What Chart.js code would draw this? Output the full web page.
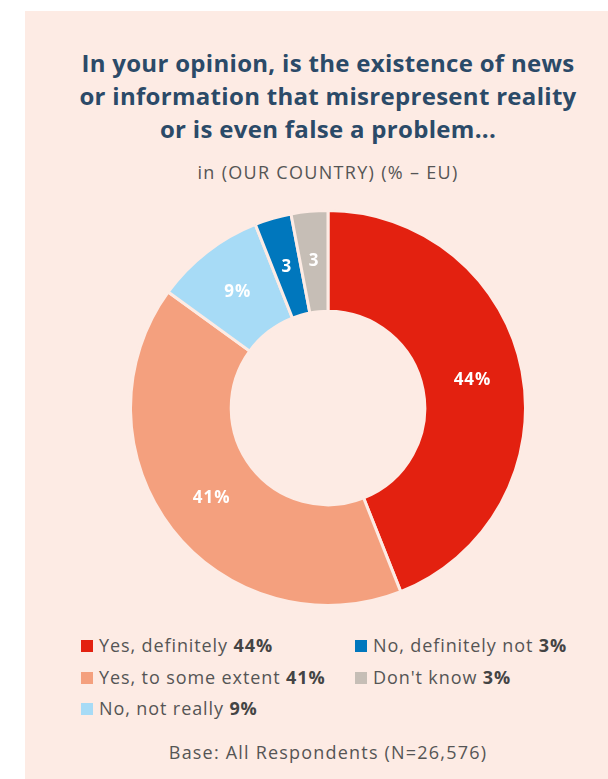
<!DOCTYPE html>
<html>
<head>
<meta charset="utf-8">
<script src="https://cdn.jsdelivr.net/npm/chart.js@4"></script>
<style>
  body { margin: 0; background: #fff; width: 608px; height: 779px; overflow: hidden; font-family: "Open Sans", Lato, sans-serif; }
  #panel { position: absolute; left: 25px; top: 11px; width: 583px; height: 768px; background: #fdebe4; }
  #title { position: absolute; left: 0; top: 46px; width: 656px; text-align: center; font-weight: bold; font-size: 24px; line-height: 33px; color: #2b4a68; letter-spacing: 0.3px; }
  #sub { position: absolute; left: 0; top: 160px; width: 656px; text-align: center; font-size: 18px; color: #555; letter-spacing: 1.3px; }
  #box { position: absolute; left: 129px; top: 208px; width: 398px; height: 400px; }
  .lg { position: absolute; font-size: 18px; color: #555; white-space: nowrap; line-height: 22px; letter-spacing: 0.9px; }
  .lg i { display: inline-block; width: 12px; height: 12px; margin-right: 6px; vertical-align: 0px; }
  .lg b { color: #444; }
  #base { position: absolute; left: 0; top: 740px; width: 656px; text-align: center; font-size: 18px; color: #555; letter-spacing: 1.2px; }
</style>
</head>
<body>
<div id="panel"></div>
<div id="title">In your opinion, is the existence of news<br>or information that misrepresent reality<br>or is even false a problem...</div>
<div id="sub">in (OUR COUNTRY) (% – EU)</div>
<div id="box"><canvas id="myChart"></canvas></div>
<div id="legend"></div>
<div id="base">Base: All Respondents (N=26,576)</div>
<script>
const labels = ['Yes, definitely', 'Yes, to some extent', 'No, not really', 'No, definitely not', "Don't know"];
const values = [44, 41, 9, 3, 3];
const sliceLabels = ['44%', '41%', '9%', '3', '3'];
const colors = ['#e32110', '#f4a07e', '#a7dbf6', '#0077bd', '#c6beb6'];
const bg = '#fdebe4';

// legend, column first
const pos = [[81, 634], [81, 666], [81, 697], [355, 634], [355, 666]];
let html = '';
for (let i = 0; i < labels.length; i++) {
    html += '<div class="lg" style="left:' + pos[i][0] + 'px;top:' + pos[i][1] + 'px"><i style="background:' + colors[i] + '"></i>' + labels[i] + ' <b>' + values[i] + '%</b></div>';
}
document.getElementById('legend').innerHTML = html;

const sliceText = {
    id: 'sliceText',
    afterDatasetsDraw(chart) {
        const c = chart.ctx;
        const meta = chart.getDatasetMeta(0);
        c.save();
        c.fillStyle = '#fff';
        c.font = 'bold 17px "Open Sans", sans-serif';
        c.letterSpacing = '1px';
        c.textAlign = 'center';
        c.textBaseline = 'middle';
        meta.data.forEach((arc, i) => {
            const p = arc.tooltipPosition();
            c.fillText(sliceLabels[i], p.x, p.y);
        });
        c.restore();
    }
};

const ctx = document.getElementById('myChart');
new Chart(ctx, {
    type: 'doughnut',
    data: {
        labels: labels,
        datasets: [{
            data: values,
            backgroundColor: colors,
            borderColor: bg,
            borderWidth: 3
        }]
    },
    options: {
        responsive: true,
        maintainAspectRatio: false,
        animation: false,
        cutout: '49%',
        plugins: {
            legend: { display: false },
            tooltip: { enabled: false }
        }
    },
    plugins: [sliceText]
});
</script>
</body>
</html>
